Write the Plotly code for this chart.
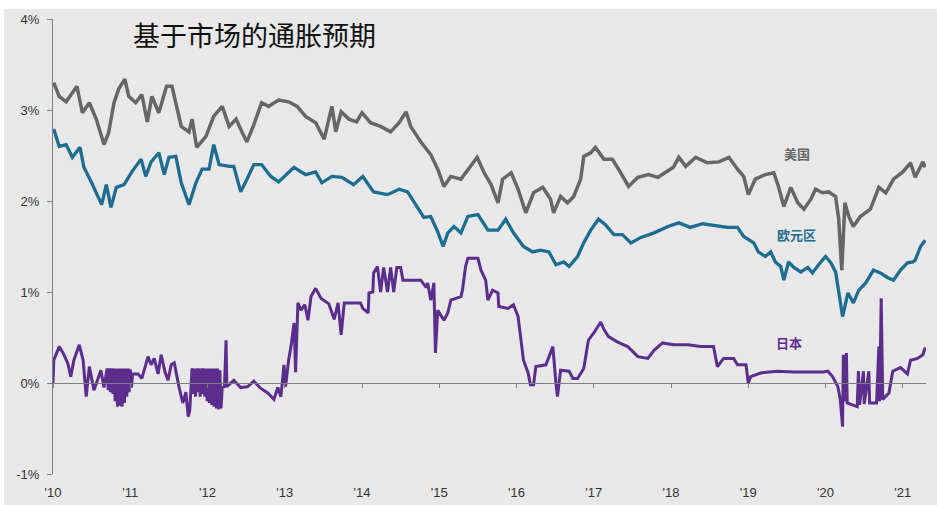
import plotly.graph_objects as go

# Breakeven inflation (market-implied), % — x in decimal years
us_year = [2010.01, 2010.08, 2010.17, 2010.31, 2010.38, 2010.47, 2010.56, 2010.66, 2010.72, 2010.79,
           2010.85, 2010.93, 2010.98, 2011.07, 2011.15, 2011.22, 2011.28, 2011.37, 2011.47, 2011.54,
           2011.60, 2011.66, 2011.76, 2011.80, 2011.86, 2011.98, 2012.08, 2012.19, 2012.28, 2012.37,
           2012.45, 2012.51, 2012.60, 2012.70, 2012.79, 2012.92, 2013.05, 2013.16, 2013.27, 2013.40,
           2013.51, 2013.61, 2013.66, 2013.73, 2013.83, 2013.93, 2014.00, 2014.11, 2014.24, 2014.37,
           2014.48, 2014.57, 2014.63, 2014.76, 2014.89, 2014.98, 2015.06, 2015.15, 2015.28, 2015.38,
           2015.49, 2015.58, 2015.67, 2015.76, 2015.82, 2015.93, 2016.02, 2016.12, 2016.22, 2016.34,
           2016.44, 2016.48, 2016.57, 2016.66, 2016.74, 2016.83, 2016.87, 2016.96, 2017.02, 2017.13,
           2017.24, 2017.32, 2017.45, 2017.57, 2017.71, 2017.83, 2018.03, 2018.10, 2018.19, 2018.32,
           2018.47, 2018.62, 2018.75, 2018.86, 2018.94, 2019.00, 2019.09, 2019.22, 2019.33, 2019.39,
           2019.46, 2019.55, 2019.64, 2019.72, 2019.81, 2019.87, 2019.96, 2020.04, 2020.13, 2020.17,
           2020.21, 2020.25, 2020.30, 2020.36, 2020.45, 2020.58, 2020.69, 2020.78, 2020.88, 2021.00,
           2021.10, 2021.16, 2021.26, 2021.29]
us_val = [3.30, 3.15, 3.09, 3.26, 2.97, 3.08, 2.90, 2.62, 2.75, 3.08,
          3.23, 3.34, 3.15, 3.08, 3.17, 2.87, 3.15, 2.97, 3.26, 3.26,
          3.04, 2.82, 2.76, 2.90, 2.59, 2.71, 2.93, 3.04, 2.82, 2.90,
          2.75, 2.65, 2.84, 3.08, 3.04, 3.11, 3.09, 3.04, 2.93, 2.86,
          2.68, 3.04, 2.76, 2.98, 2.90, 2.87, 2.97, 2.86, 2.82, 2.76,
          2.86, 2.98, 2.82, 2.65, 2.51, 2.35, 2.16, 2.27, 2.24, 2.35,
          2.48, 2.31, 2.18, 1.98, 2.24, 2.31, 2.13, 1.87, 2.09, 2.15,
          2.02, 1.87, 2.05, 1.98, 2.05, 2.24, 2.49, 2.53, 2.59, 2.46,
          2.46, 2.35, 2.16, 2.26, 2.29, 2.26, 2.37, 2.48, 2.38, 2.48,
          2.42, 2.43, 2.48, 2.35, 2.27, 2.07, 2.24, 2.29, 2.31, 2.16,
          1.94, 2.15, 1.98, 1.91, 2.02, 2.13, 2.09, 2.10, 2.05, 1.80,
          1.24, 1.98, 1.83, 1.72, 1.83, 1.91, 2.15, 2.09, 2.24, 2.32,
          2.42, 2.26, 2.43, 2.37]

ez_year = [2010.01, 2010.08, 2010.17, 2010.25, 2010.35, 2010.40, 2010.50, 2010.63, 2010.69, 2010.75,
           2010.82, 2010.92, 2011.02, 2011.14, 2011.20, 2011.27, 2011.37, 2011.44, 2011.50, 2011.59,
           2011.66, 2011.76, 2011.85, 2011.93, 2012.02, 2012.08, 2012.15, 2012.28, 2012.34, 2012.43,
           2012.51, 2012.60, 2012.70, 2012.82, 2012.92, 2013.12, 2013.27, 2013.40, 2013.48, 2013.61,
           2013.74, 2013.89, 2014.01, 2014.15, 2014.33, 2014.48, 2014.59, 2014.70, 2014.80, 2014.89,
           2014.98, 2015.05, 2015.11, 2015.19, 2015.28, 2015.37, 2015.50, 2015.63, 2015.76, 2015.86,
           2015.96, 2016.09, 2016.21, 2016.31, 2016.42, 2016.51, 2016.61, 2016.68, 2016.79, 2016.87,
           2016.96, 2017.06, 2017.15, 2017.26, 2017.37, 2017.48, 2017.61, 2017.78, 2017.96, 2018.10,
           2018.25, 2018.41, 2018.55, 2018.73, 2018.86, 2018.94, 2019.07, 2019.13, 2019.22, 2019.29,
           2019.35, 2019.42, 2019.46, 2019.52, 2019.59, 2019.68, 2019.77, 2019.83, 2019.91, 2020.00,
           2020.07, 2020.13, 2020.18, 2020.22, 2020.29, 2020.36, 2020.43, 2020.52, 2020.62, 2020.71,
           2020.80, 2020.88, 2020.97, 2021.06, 2021.13, 2021.16, 2021.23, 2021.29]
ez_val = [2.79, 2.60, 2.62, 2.48, 2.59, 2.37, 2.20, 1.96, 2.18, 1.93,
          2.15, 2.18, 2.32, 2.46, 2.27, 2.43, 2.53, 2.29, 2.48, 2.49,
          2.20, 1.96, 2.20, 2.35, 2.35, 2.62, 2.40, 2.38, 2.38, 2.10,
          2.24, 2.40, 2.40, 2.27, 2.21, 2.37, 2.29, 2.32, 2.20, 2.27,
          2.26, 2.18, 2.27, 2.10, 2.07, 2.13, 2.10, 1.96, 1.82, 1.83,
          1.66, 1.50, 1.65, 1.72, 1.65, 1.83, 1.85, 1.68, 1.68, 1.80,
          1.65, 1.50, 1.44, 1.46, 1.44, 1.30, 1.33, 1.28, 1.39, 1.54,
          1.68, 1.80, 1.74, 1.63, 1.63, 1.54, 1.60, 1.65, 1.72, 1.76,
          1.71, 1.75, 1.73, 1.71, 1.71, 1.61, 1.54, 1.44, 1.39, 1.44,
          1.33, 1.28, 1.13, 1.33, 1.27, 1.22, 1.27, 1.21, 1.30, 1.39,
          1.32, 1.22, 0.95, 0.73, 0.99, 0.88, 1.02, 1.10, 1.24, 1.21,
          1.16, 1.13, 1.24, 1.32, 1.33, 1.35, 1.50, 1.57]

jp_year = [2010.00, 2010.01, 2010.08, 2010.13, 2010.19, 2010.23, 2010.27, 2010.34, 2010.39, 2010.43,
           2010.47, 2010.53, 2010.62, 2010.66,
           2010.70, 2010.715, 2010.73, 2010.745, 2010.76, 2010.775, 2010.79, 2010.805, 2010.82, 2010.835,
           2010.85, 2010.865, 2010.88, 2010.895, 2010.91, 2010.925, 2010.94, 2010.955, 2010.97, 2010.985,
           2011.00, 2011.015, 2011.03,
           2011.10, 2011.15, 2011.23, 2011.27, 2011.31, 2011.36, 2011.40,
           2011.45, 2011.49, 2011.53, 2011.57, 2011.63, 2011.68, 2011.72, 2011.75, 2011.77,
           2011.80, 2011.815, 2011.83, 2011.845, 2011.86, 2011.875, 2011.89, 2011.905, 2011.92, 2011.935,
           2011.95, 2011.965, 2011.98, 2011.995, 2012.01, 2012.025, 2012.04, 2012.055, 2012.07, 2012.085,
           2012.10, 2012.115, 2012.13, 2012.145, 2012.16, 2012.175, 2012.19,
           2012.22, 2012.24, 2012.25, 2012.34, 2012.43, 2012.52, 2012.60, 2012.69, 2012.78, 2012.86,
           2012.91, 2012.95, 2012.99, 2013.01, 2013.05, 2013.08, 2013.12, 2013.14, 2013.17, 2013.21,
           2013.26, 2013.30, 2013.34, 2013.40, 2013.47, 2013.57, 2013.64, 2013.69, 2013.73, 2013.77,
           2013.98, 2014.01, 2014.08, 2014.09, 2014.14, 2014.15, 2014.20, 2014.24, 2014.28, 2014.33,
           2014.37, 2014.41, 2014.45, 2014.50, 2014.53, 2014.76, 2014.83, 2014.85, 2014.89, 2014.93,
           2014.95, 2014.98, 2015.06, 2015.11, 2015.15, 2015.21, 2015.28, 2015.30, 2015.34, 2015.37,
           2015.50, 2015.54, 2015.60, 2015.63, 2015.69, 2015.76, 2015.77, 2015.89, 2015.96, 2016.02,
           2016.05, 2016.09, 2016.15, 2016.18, 2016.22, 2016.25, 2016.38, 2016.42, 2016.47, 2016.51,
           2016.53, 2016.57, 2016.68, 2016.73, 2016.79, 2016.87, 2016.93, 2017.00, 2017.09, 2017.13,
           2017.19, 2017.31, 2017.44, 2017.57, 2017.70, 2017.78, 2017.89, 2018.03, 2018.22, 2018.38,
           2018.55, 2018.60, 2018.68, 2018.81, 2018.86, 2018.97, 2019.00, 2019.03, 2019.16, 2019.38,
           2019.59, 2019.81, 2019.97, 2020.03, 2020.09, 2020.16, 2020.19, 2020.22, 2020.23, 2020.245,
           2020.27, 2020.28, 2020.35, 2020.41, 2020.425, 2020.44, 2020.49, 2020.50, 2020.56, 2020.57,
           2020.66, 2020.69, 2020.70, 2020.72, 2020.74, 2020.82, 2020.87, 2020.97, 2021.06, 2021.10,
           2021.19, 2021.26, 2021.29]
jp_val = [0.00, 0.25, 0.40, 0.33, 0.22, 0.07, 0.25, 0.42, 0.25, -0.15,
          0.18, -0.08, 0.14, -0.05,
          0.16, -0.08, 0.16, -0.10, 0.16, -0.12, 0.16, -0.20, 0.16, -0.26,
          0.16, -0.25, 0.16, -0.26, 0.16, -0.22, 0.16, -0.15, 0.16, -0.10,
          0.15, -0.05, 0.10,
          0.10, 0.05, 0.29, 0.20, 0.27, 0.10, 0.31,
          0.12, 0.03, 0.20, 0.22, -0.04, -0.22, -0.10, -0.37, -0.30,
          0.16, -0.12, 0.16, -0.15, 0.16, -0.10, 0.16, -0.15, 0.16, -0.12,
          0.16, -0.15, 0.16, -0.20, 0.16, -0.22, 0.16, -0.24, 0.16, -0.26,
          0.16, -0.28, 0.16, -0.29, 0.14, -0.28, -0.05,
          -0.04, 0.47, -0.04, 0.03, -0.05, -0.04, 0.02, -0.06, -0.11, -0.18,
          -0.05, -0.15, 0.20, -0.04, 0.25, 0.40, 0.66, 0.12, 0.88, 0.80,
          0.86, 0.69, 0.95, 1.04, 0.93, 0.87, 0.70, 0.88, 0.53, 0.88,
          0.88, 0.82, 0.77, 0.99, 1.00, 1.21, 1.28, 1.00, 1.27, 1.00,
          1.27, 1.00, 1.27, 1.27, 1.13, 1.13, 1.05, 1.10, 0.91, 1.10,
          0.33, 0.80, 0.69, 0.77, 0.91, 0.93, 0.95, 1.02, 1.28, 1.37,
          1.37, 1.24, 1.13, 0.91, 1.02, 0.99, 0.84, 0.82, 0.86, 0.73,
          0.51, 0.25, 0.11, -0.02, -0.02, 0.18, 0.20, 0.29, 0.40, 0.00,
          -0.15, 0.14, 0.13, 0.05, 0.05, 0.16, 0.47, 0.55, 0.67, 0.59,
          0.51, 0.45, 0.40, 0.29, 0.27, 0.36, 0.44, 0.42, 0.42, 0.40,
          0.40, 0.18, 0.27, 0.27, 0.20, 0.20, 0.00, 0.07, 0.11, 0.13,
          0.12, 0.12, 0.12, 0.13, 0.07, -0.04, -0.18, -0.48, 0.31, -0.20,
          0.33, -0.22, -0.24, -0.26, 0.13, -0.24, 0.13, -0.23, 0.13, -0.22,
          -0.22, 0.40, -0.20, 0.93, -0.18, -0.11, 0.13, 0.17, 0.10, 0.25,
          0.27, 0.31, 0.39]

tick_years = list(range(2010, 2022))
tick_text = ["'10", "'11", "'12", "'13", "'14", "'15", "'16", "'17", "'18", "'19", "'20", "'21"]
y_ticks = [-1, 0, 1, 2, 3, 4]
y_text = ["-1%", "0%", "1%", "2%", "3%", "4%"]

GRAY = "#666666"
TEAL = "#1c6d8f"
PURPLE = "#5b2d8c"
AXIS = "#7f7f7f"
BG = "#e8e8e8"
X_RANGE = [2010, 2021.3]

fig = go.Figure()
fig.add_trace(go.Scatter(x=us_year, y=us_val, mode="lines", name="美国",
                         line=dict(color=GRAY, width=3.5)))
fig.add_trace(go.Scatter(x=ez_year, y=ez_val, mode="lines", name="欧元区",
                         line=dict(color=TEAL, width=3.3)))
fig.add_trace(go.Scatter(x=jp_year, y=jp_val, mode="lines", name="日本",
                         line=dict(color=PURPLE, width=3)))
# invisible companion trace to carry the axis drawn along the 0% line
fig.add_trace(go.Scatter(x=[X_RANGE[0]], y=[0], xaxis="x2", mode="markers",
                         marker=dict(opacity=0), showlegend=False, hoverinfo="skip"))

label_font = "Noto Sans CJK SC, Noto Sans, sans-serif"
fig.update_layout(
    width=937, height=505,
    margin=dict(l=53, r=11, t=19, b=31),
    paper_bgcolor="white",
    plot_bgcolor="rgba(0,0,0,0)",
    showlegend=False,
    font=dict(family="Liberation Sans, Arial, sans-serif", size=13, color="#333333"),
    xaxis=dict(range=X_RANGE, tickmode="array", tickvals=tick_years, ticktext=tick_text,
               showgrid=False, zeroline=False, showline=False, automargin=False,
               ticks="outside", ticklen=6, tickcolor="rgba(0,0,0,0)",
               tickfont=dict(size=13, color="#333333")),
    xaxis2=dict(range=X_RANGE, overlaying="x", anchor="free", position=0.2,
                tickmode="array", tickvals=tick_years, showticklabels=False, automargin=False,
                showgrid=False, zeroline=False, showline=True, linecolor=AXIS, linewidth=1,
                ticks="outside", ticklen=4, tickcolor=AXIS),
    yaxis=dict(range=[-1, 4], tickmode="array", tickvals=y_ticks, ticktext=y_text,
               showgrid=False, zeroline=False, showline=True, linecolor=AXIS, linewidth=1,
               automargin=False,
               ticks="outside", ticklen=5, tickcolor=AXIS, ticklabelstandoff=5,
               tickfont=dict(size=13, color="#333333")),
    shapes=[dict(type="rect", xref="paper", yref="paper",
                 x0=-0.0561, x1=1.02, y0=-0.08, y1=1.022,
                 fillcolor=BG, line=dict(width=0), layer="below")],
    annotations=[
        dict(text="基于市场的通胀预期", xref="paper", yref="paper", x=0.231, y=0.965,
             xanchor="center", yanchor="middle", showarrow=False,
             font=dict(family=label_font, size=27, color="#111111")),
        dict(text="<b>美国</b>", x=2019.63, y=2.52, showarrow=False,
             font=dict(family=label_font, size=13, color=GRAY)),
        dict(text="<b>欧元区</b>", x=2019.62, y=1.63, showarrow=False,
             font=dict(family=label_font, size=13, color=TEAL)),
        dict(text="<b>日本</b>", x=2019.53, y=0.45, showarrow=False,
             font=dict(family=label_font, size=13, color=PURPLE)),
    ],
)

fig.write_html("out.html")
